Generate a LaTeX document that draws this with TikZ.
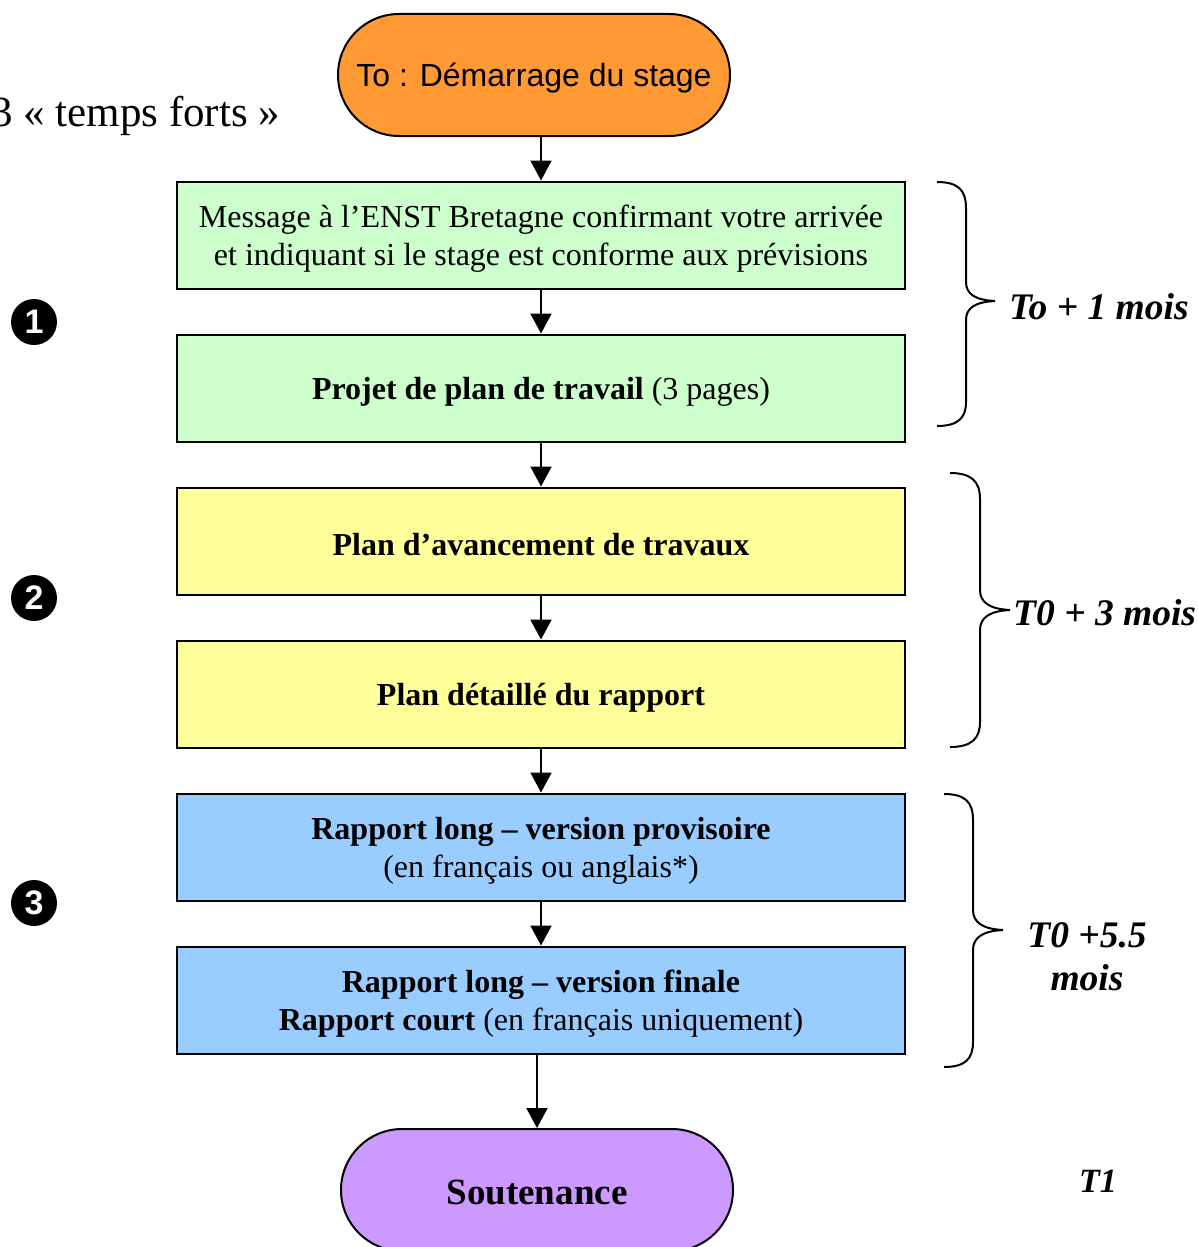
\documentclass[tikz,border=0pt]{standalone}
\usepackage{fontspec}
\setmainfont{Liberation Serif}
\newfontfamily\arialf{Liberation Sans}
\usetikzlibrary{arrows.meta}
\definecolor{cgreen}{HTML}{CCFFCC}
\definecolor{cyellow}{HTML}{FFFF99}
\definecolor{cblue}{HTML}{99CCFF}
\definecolor{corange}{HTML}{FF9933}
\definecolor{cpurple}{HTML}{CC99FF}
\newcommand\bxstrut{\rule{0pt}{30pt}}
\tikzset{
  stepbox/.style={draw=black, line width=2pt, minimum width=728pt, minimum height=107pt,
    align=center, inner sep=0pt, font=\fontsize{32}{38}\selectfont},
  term/.style={draw=black, line width=2pt, minimum width=392pt, minimum height=122pt,
    rounded corners=61pt, inner sep=0pt},
  arr/.style={line width=2pt, -{Triangle[width=21pt,length=20pt]}},
  brc/.style={line width=2pt},
  numc/.style={circle, fill=black, minimum size=46pt, inner sep=0pt, text=white,
    font=\arialf\bfseries\fontsize{34}{34}\selectfont},
  lbl/.style={inner sep=0pt, font=\bfseries\itshape\fontsize{37.5}{43}\selectfont}
}
\begin{document}
\begin{tikzpicture}[x=1pt,y=-1pt]
\useasboundingbox (0,0) rectangle (1197,1247);

\node[anchor=base west, inner sep=0pt, font=\fontsize{43}{43}\selectfont] (title) at (-9,126) {3 « temps forts »};

\node[term, fill=corange, font=\arialf\fontsize{32}{32}\selectfont] (top) at (534,75) {\rule{0pt}{29pt}To : Démarrage du stage};

\node[stepbox, fill=cgreen] (b1) at (541,235) {\bxstrut Message à l’ENST Bretagne confirmant votre arrivée\\et indiquant si le stage est conforme aux prévisions};
\node[stepbox, fill=cgreen] (b2) at (541,388) {\bxstrut\textbf{Projet de plan de travail} (3 pages)};
\node[stepbox, fill=cyellow] (b3) at (541,541) {\bxstrut\textbf{Plan d’avancement de travaux}};
\node[stepbox, fill=cyellow] (b4) at (541,694) {\bxstrut\textbf{Plan détaillé du rapport}};
\node[stepbox, fill=cblue] (b5) at (541,847) {\bxstrut\textbf{Rapport long – version provisoire}\\(en français ou anglais*)};
\node[stepbox, fill=cblue] (b6) at (541,1000) {\bxstrut\textbf{Rapport long – version finale}\\\textbf{Rapport court} (en français uniquement)};

\node[term, fill=cpurple, font=\bfseries\fontsize{37}{37}\selectfont] (sout) at (537,1190) {\rule{0pt}{30pt}Soutenance};

\draw[arr] (top.south -| b1.north) -- (b1.north);
\draw[arr] (b1) -- (b2);
\draw[arr] (b2) -- (b3);
\draw[arr] (b3) -- (b4);
\draw[arr] (b4) -- (b5);
\draw[arr] (b5) -- (b6);
\draw[arr] (b6.south -| sout.north) -- (sout.north);

\node[numc] (n1) at (34,322) {1};
\node[numc] (n2) at (34,598) {2};
\node[numc] (n3) at (34,903) {3};

% braces
\draw[brc] (937,182) .. controls (958,182) and (966,190) .. (966,208) -- (966,282)
  .. controls (966,294) and (975,300) .. (995,301)
  .. controls (975,302) and (966,308) .. (966,320) -- (966,402)
  .. controls (966,418) and (958,426) .. (937,426);
\draw[brc] (950,473) .. controls (971,473) and (980,481) .. (980,499) -- (980,590)
  .. controls (980,602) and (989,609) .. (1010,610)
  .. controls (989,611) and (980,618) .. (980,630) -- (980,722)
  .. controls (980,739) and (971,747) .. (950,747);
\draw[brc] (944,794) .. controls (965,794) and (973,802) .. (973,820) -- (973,910)
  .. controls (973,922) and (982,929) .. (1003,930)
  .. controls (982,931) and (973,938) .. (973,950) -- (973,1042)
  .. controls (973,1059) and (965,1067) .. (944,1067);

\node[lbl, anchor=base west] (l1) at (1009,319) {To + 1 mois};
\node[lbl, anchor=base west] (l2) at (1013,625) {T0 + 3 mois};
\node[lbl, anchor=base, align=center] (l3) at (1087,990) {T0 +5.5\\mois};
\node[lbl, anchor=base west, font=\bfseries\itshape\fontsize{34}{34}\selectfont] (l4) at (1079,1192) {T1};
\end{tikzpicture}
\end{document}
